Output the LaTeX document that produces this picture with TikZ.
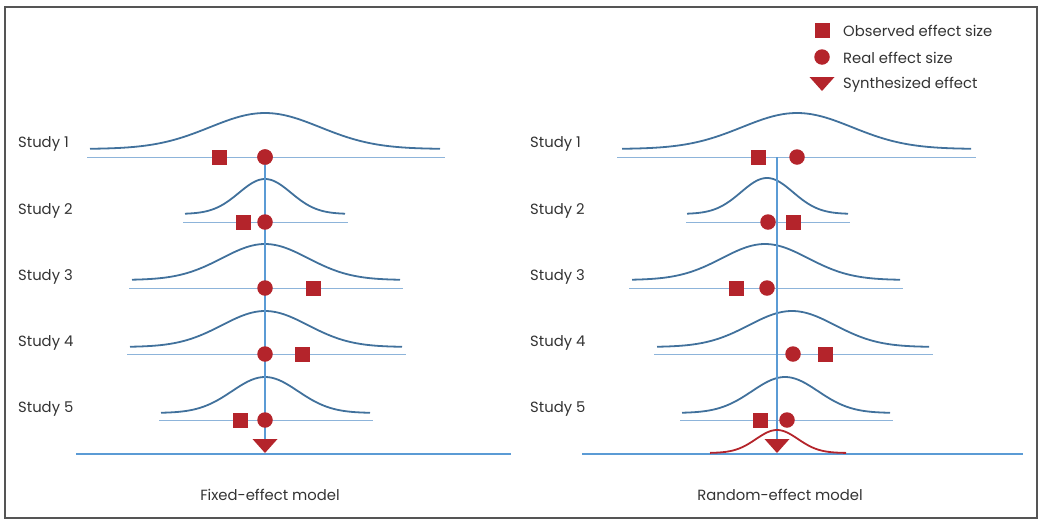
\documentclass[tikz,border=0pt]{standalone}
\usepackage{fontspec}
\setmainfont{Poppins}
\definecolor{curveblue}{HTML}{41719C}
\definecolor{thinblue}{HTML}{8DB4DA}
\definecolor{axisblue}{HTML}{5B9BD5}
\definecolor{effred}{HTML}{B4242B}
\definecolor{txtgray}{HTML}{333333}
\definecolor{framegray}{HTML}{555555}
\newcommand{\gcurve}[7]{%
  \draw[#7] plot[domain=#1:#2,samples=90,smooth]
    (\x,{#4-#5*exp(-0.5*((\x-#3)/#6)*((\x-#3)/#6))});}
\begin{document}
\begin{tikzpicture}[x=1pt,y=-1pt,
  obs/.style={rectangle,fill=effred,minimum size=15pt,inner sep=0pt},
  real/.style={circle,fill=effred,minimum size=15.5pt,inner sep=0pt},
  synth/.style={fill=effred},
  lbl/.style={anchor=west,font=\fontsize{14.8}{16}\selectfont,text=txtgray,inner sep=0pt},
  captxt/.style={font=\fontsize{14.8}{16}\selectfont,text=txtgray,inner sep=0pt},
  gauss/.style={draw=curveblue,line width=1.8pt},
  rgauss/.style={draw=effred,line width=1.8pt},
  thinaxis/.style={draw=thinblue,line width=0.8pt},
  mainaxis/.style={draw=axisblue,line width=2.6pt},
  vaxis/.style={draw=axisblue,line width=2.2pt}]
\useasboundingbox (0,0) rectangle (1040,523);
\draw[framegray,line width=1.3pt] (5,7) rectangle (1037,518);

% ---------------- Legend ----------------
\node[obs] (legobs) at (822,30) {};
\node[real] (legreal) at (822,57) {};
\fill[synth] (809.5,77) -- (834.5,77) -- (822,91) -- cycle;
\coordinate (legsyn) at (822,84);
\node[lbl] (legobst) at (843,31) {Observed effect size};
\node[lbl] (legrealt) at (843,58) {Real effect size};
\node[lbl] (legsynt) at (843,85) {Synthesized effect};

% ---------------- Left: fixed-effect model ----------------
\foreach \n/\y in {1/144,2/211,3/277,4/343,5/409}
  \node[lbl] (Ls\n) at (18,\y) {Study \n};

\draw[mainaxis] (76,454) -- (511,454);
\coordinate (Ltri) at (265,446);
\gcurve{90}{440}{265}{149}{36}{55}{gauss}
\gcurve{185}{345}{265}{214}{35}{26}{gauss}
\gcurve{132}{400}{265}{280}{36}{43}{gauss}
\gcurve{130}{402}{265}{347}{36}{43}{gauss}
\gcurve{161}{370}{265}{413}{36}{33}{gauss}
\draw[thinaxis] (87,157) -- (445,157);
\draw[thinaxis] (183,222) -- (348,222);
\draw[thinaxis] (129,288) -- (403,288);
\draw[thinaxis] (127,354) -- (406,354);
\draw[thinaxis] (159,420) -- (373,420);

\node[real] (Lr1) at (265,157) {};
\draw[vaxis] (Lr1.center) -- (Ltri);
\node[real] (Lr1b) at (265,157) {};
\node[obs] (Lo1) at (219,157) {};
\node[obs] (Lo2) at (243,222) {};
\node[real] (Lr2) at (265,222) {};
\node[real] (Lr3) at (265,288) {};
\node[obs] (Lo3) at (313,288) {};
\node[real] (Lr4) at (265,354) {};
\node[obs] (Lo4) at (302,354) {};
\node[obs] (Lo5) at (240,420) {};
\node[real] (Lr5) at (265,420) {};
\fill[synth] (252.5,439) -- (277.5,439) -- (265,453) -- cycle;
\node[captxt] (Lcap) at (270,495) {Fixed-effect model};

% ---------------- Right: random-effect model ----------------
\foreach \n/\y in {1/144,2/211,3/277,4/343,5/409}
  \node[lbl] (Rs\n) at (530,\y) {Study \n};

\draw[mainaxis] (582,454) -- (1023,454);
\coordinate (Rtop) at (777,157);
\coordinate (Rtri) at (777,446);
\gcurve{622}{971}{797}{149}{36}{55}{gauss}
\gcurve{687}{848}{767}{214}{36}{26}{gauss}
\gcurve{632}{900}{765}{280}{36}{43}{gauss}
\gcurve{657}{929}{792}{347}{36}{43}{gauss}
\gcurve{682}{890}{785}{413}{36}{33}{gauss}
\draw[thinaxis] (617,157) -- (976,157);
\draw[thinaxis] (686,222) -- (850,222);
\draw[thinaxis] (629,288) -- (903,288);
\draw[thinaxis] (654,354) -- (933,354);
\draw[thinaxis] (680,420) -- (893,420);
\draw[vaxis] (Rtop) -- (Rtri);

\gcurve{710}{846}{777}{453}{23}{21}{rgauss}

\node[obs] (Ro1) at (758,157) {};
\node[real] (Rr1) at (797,157) {};
\node[real] (Rr2) at (768,222) {};
\node[obs] (Ro2) at (793,222) {};
\node[obs] (Ro3) at (736,288) {};
\node[real] (Rr3) at (767,288) {};
\node[real] (Rr4) at (793,354) {};
\node[obs] (Ro4) at (825,354) {};
\node[obs] (Ro5) at (760,420) {};
\node[real] (Rr5) at (787,420) {};
\fill[synth] (764.5,439) -- (789.5,439) -- (777,453) -- cycle;
\node[captxt] (Rcap) at (780,495) {Random-effect model};
\end{tikzpicture}
\end{document}
